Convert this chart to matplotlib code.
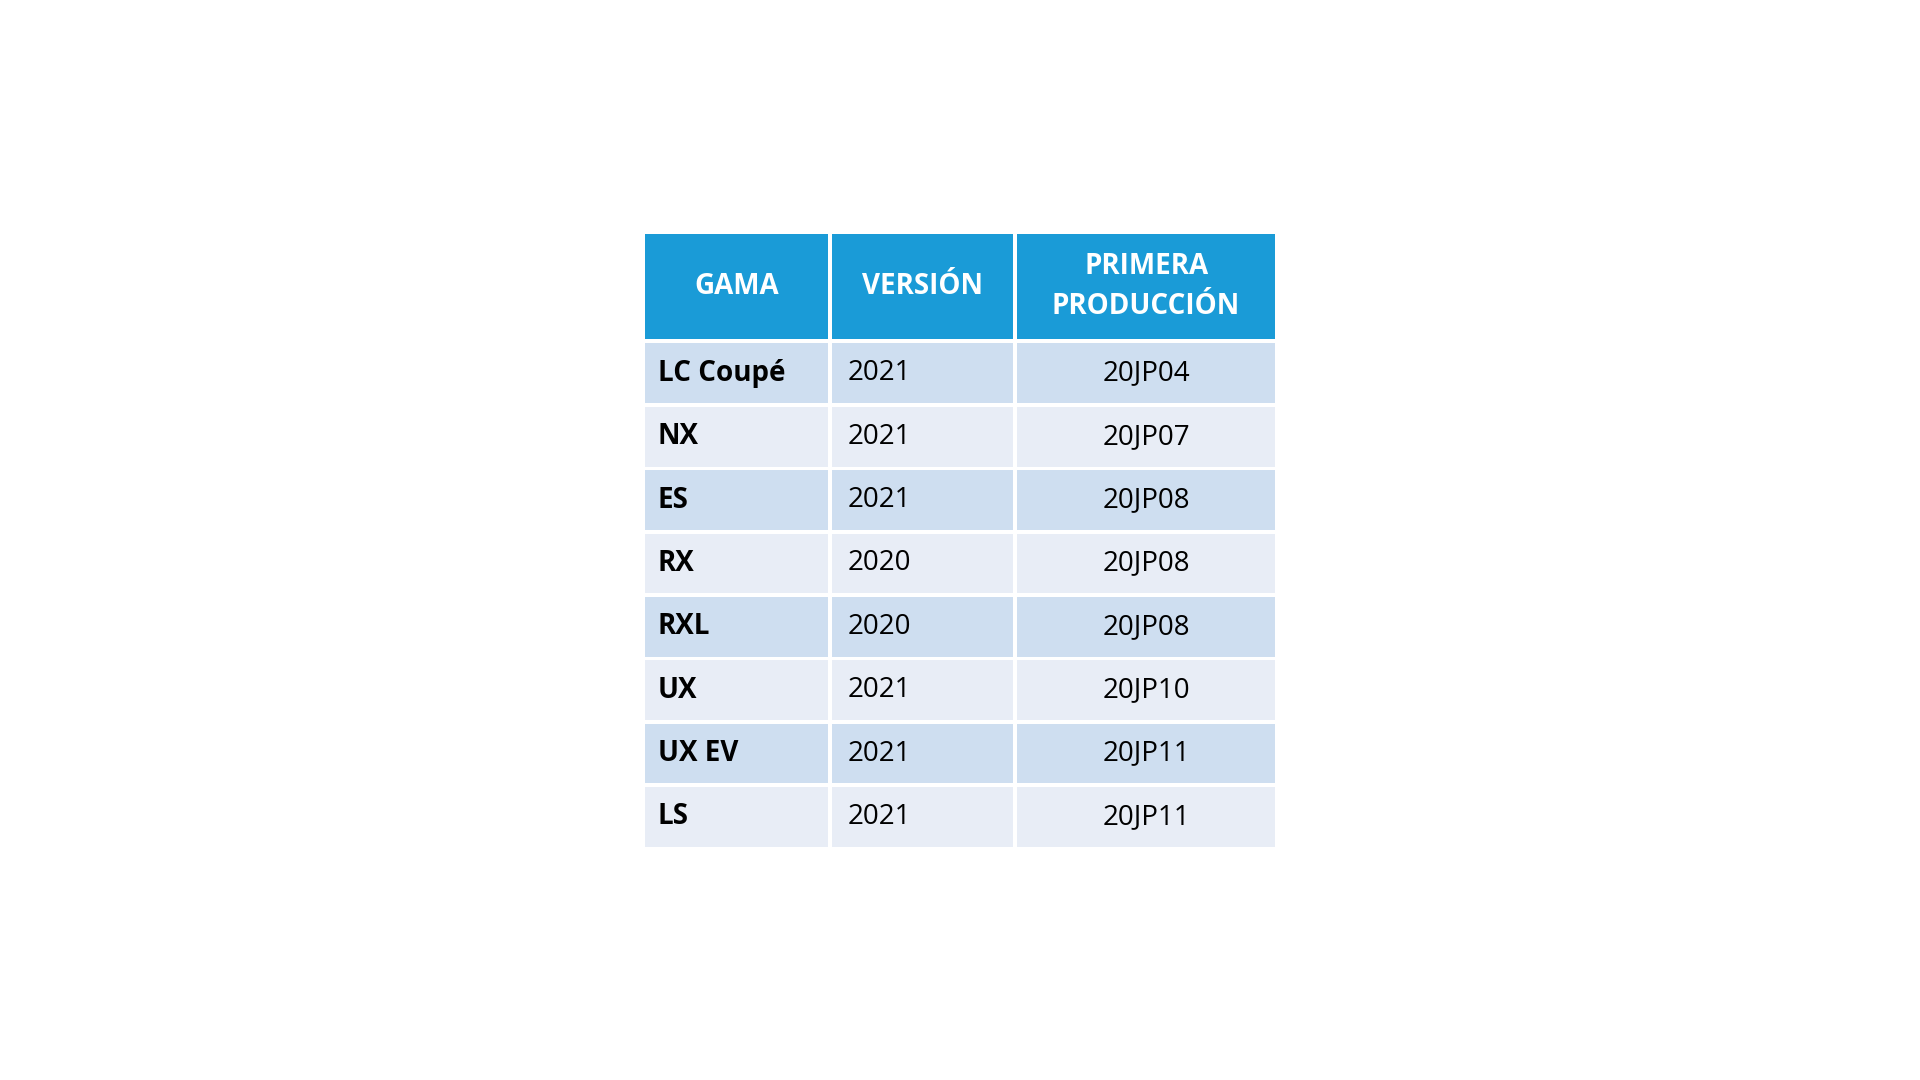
import matplotlib
matplotlib.use("Agg")
import matplotlib.pyplot as plt
from matplotlib.patches import Rectangle

headers = ["GAMA", "VERSIÓN", "PRIMERA\nPRODUCCIÓN"]
gama = ["LC Coupé", "NX", "ES", "RX", "RXL", "UX", "UX EV", "LS"]
version = ["2021", "2021", "2021", "2020", "2020", "2021", "2021", "2021"]
produccion = ["20JP04", "20JP07", "20JP08", "20JP08", "20JP08", "20JP10", "20JP11", "20JP11"]

W, H = 1568, 882
col_edges = [525, 678, 829, 1043]
header_top, header_bot = 191, 277
row_h = (693 - 279) / len(gama)

fig = plt.figure(figsize=(19.2, 10.8), dpi=100)
ax = fig.add_axes([0, 0, 1, 1])
ax.set_xlim(0, W); ax.set_ylim(H, 0); ax.axis("off")
font = ["Open Sans", "DejaVu Sans"]
gap = 1.5

for j, h in enumerate(headers):
    x0, x1 = col_edges[j], col_edges[j + 1]
    ax.add_patch(Rectangle((x0 + gap, header_top), x1 - x0 - 2 * gap, header_bot - header_top, color="#1a9bd7", lw=0))
    ax.text((x0 + x1) / 2, (header_top + header_bot) / 2, h, ha="center", va="center", color="white",
            fontsize=20, fontweight="bold", family=font, linespacing=1.5)

cols = [gama, version, produccion]
for i in range(len(gama)):
    y0 = 279 + i * row_h
    c = "#cedef0" if i % 2 == 0 else "#e8edf6"
    for j in range(3):
        x0, x1 = col_edges[j], col_edges[j + 1]
        ax.add_patch(Rectangle((x0 + gap, y0 + gap), x1 - x0 - 2 * gap, row_h - 2 * gap, color=c, lw=0))
        yc = y0 + row_h / 2
        if j == 0:
            ax.text(x0 + 12, yc, cols[j][i], ha="left", va="center", fontsize=20, fontweight="bold", family=font, color="black")
        elif j == 1:
            ax.text(x0 + 14, yc, cols[j][i], ha="left", va="center", fontsize=20, family=font, color="black")
        else:
            ax.text((x0 + x1) / 2, yc, cols[j][i], ha="center", va="center", fontsize=20, family=font, color="black")

fig.savefig("out.png", dpi=100, facecolor="white")
